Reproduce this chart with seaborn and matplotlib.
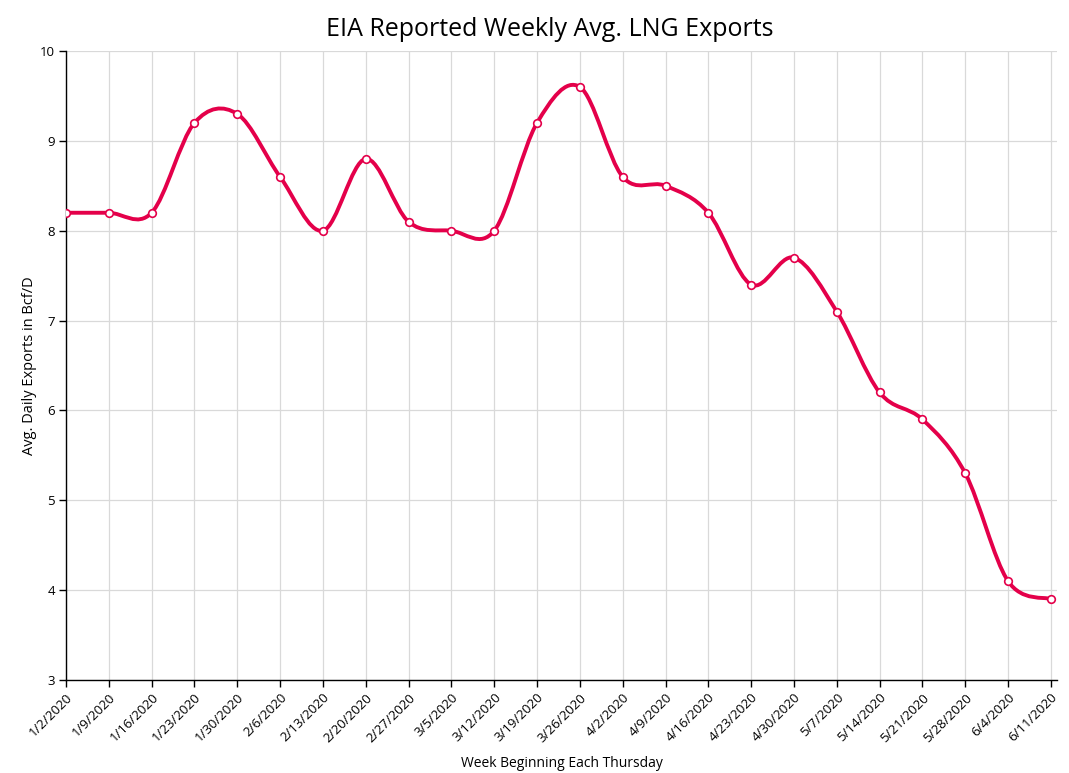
import numpy as np
import pandas as pd
import matplotlib
matplotlib.use("Agg")
import matplotlib.pyplot as plt
from matplotlib.path import Path
from matplotlib.patches import PathPatch
import seaborn as sns

weeks = ["1/2/2020", "1/9/2020", "1/16/2020", "1/23/2020", "1/30/2020", "2/6/2020",
         "2/13/2020", "2/20/2020", "2/27/2020", "3/5/2020", "3/12/2020", "3/19/2020",
         "3/26/2020", "4/2/2020", "4/9/2020", "4/16/2020", "4/23/2020", "4/30/2020",
         "5/7/2020", "5/14/2020", "5/21/2020", "5/28/2020", "6/4/2020", "6/11/2020"]
exports = [8.2, 8.2, 8.2, 9.2, 9.3, 8.6, 8.0, 8.8, 8.1, 8.0, 8.0, 9.2,
           9.6, 8.6, 8.5, 8.2, 7.4, 7.7, 7.1, 6.2, 5.9, 5.3, 4.1, 3.9]
yticks = [3, 4, 5, 6, 7, 8, 9, 10]

LINE = "#E4004A"

sns.set_theme(style="white")
plt.rcParams["font.family"] = ["Open Sans", "DejaVu Sans"]

df = pd.DataFrame({"idx": np.arange(len(weeks)), "val": exports})

fig = plt.figure(figsize=(10.69, 7.73), dpi=100)
ax = fig.add_axes([0.0617, 0.1203, 0.927, 0.8137])

# smooth curve (Catmull-Rom style Bezier through the data points)
x = df["idx"].to_numpy(dtype=float)
y = df["val"].to_numpy(dtype=float)
n = len(x)
verts = [(x[0], y[0])]
codes = [Path.MOVETO]
for i in range(n - 1):
    p0 = (x[max(i - 1, 0)], y[max(i - 1, 0)])
    p1 = (x[i], y[i])
    p2 = (x[i + 1], y[i + 1])
    p3 = (x[min(i + 2, n - 1)], y[min(i + 2, n - 1)])
    c1 = (p1[0] + (p2[0] - p0[0]) / 6, p1[1] + (p2[1] - p0[1]) / 6)
    c2 = (p2[0] - (p3[0] - p1[0]) / 6, p2[1] - (p3[1] - p1[1]) / 6)
    verts += [c1, c2, p2]
    codes += [Path.CURVE4] * 3
ax.add_patch(PathPatch(Path(verts, codes), facecolor="none", edgecolor=LINE,
                       lw=2.8, zorder=3, capstyle="round", joinstyle="round"))

sns.scatterplot(data=df, x="idx", y="val", ax=ax, s=30, color="white",
                edgecolor=LINE, linewidth=1.2, zorder=4, legend=False)

ax.set_xlim(0, 23.14)
ax.set_ylim(3, 10)
ax.set_xticks(range(len(weeks)))
ax.set_xticklabels(weeks, rotation=45, ha="right", rotation_mode="anchor", fontsize=9.5)
ax.set_yticks(yticks)
ax.set_yticklabels([str(v) for v in yticks], fontsize=9.5)
ax.grid(True, color="#d9d9d9", linewidth=0.9)
ax.set_axisbelow(True)
for s in ["top", "right"]:
    ax.spines[s].set_visible(False)
for s in ["left", "bottom"]:
    ax.spines[s].set_color("black")
    ax.spines[s].set_linewidth(1.0)
ax.tick_params(axis="both", which="major", direction="out", length=5, width=1,
               color="black", labelcolor="black", pad=3, bottom=True, left=True)

ax.set_xlabel("Week Beginning Each Thursday", fontsize=10, color="black", labelpad=8)
ax.set_ylabel("Avg. Daily Exports in Bcf/D", fontsize=10.5, color="black", labelpad=2)
fig.suptitle("EIA Reported Weekly Avg. LNG Exports", fontsize=18, x=0.5145, y=0.978,
             color="black")

fig.savefig("out.png", dpi=100)
